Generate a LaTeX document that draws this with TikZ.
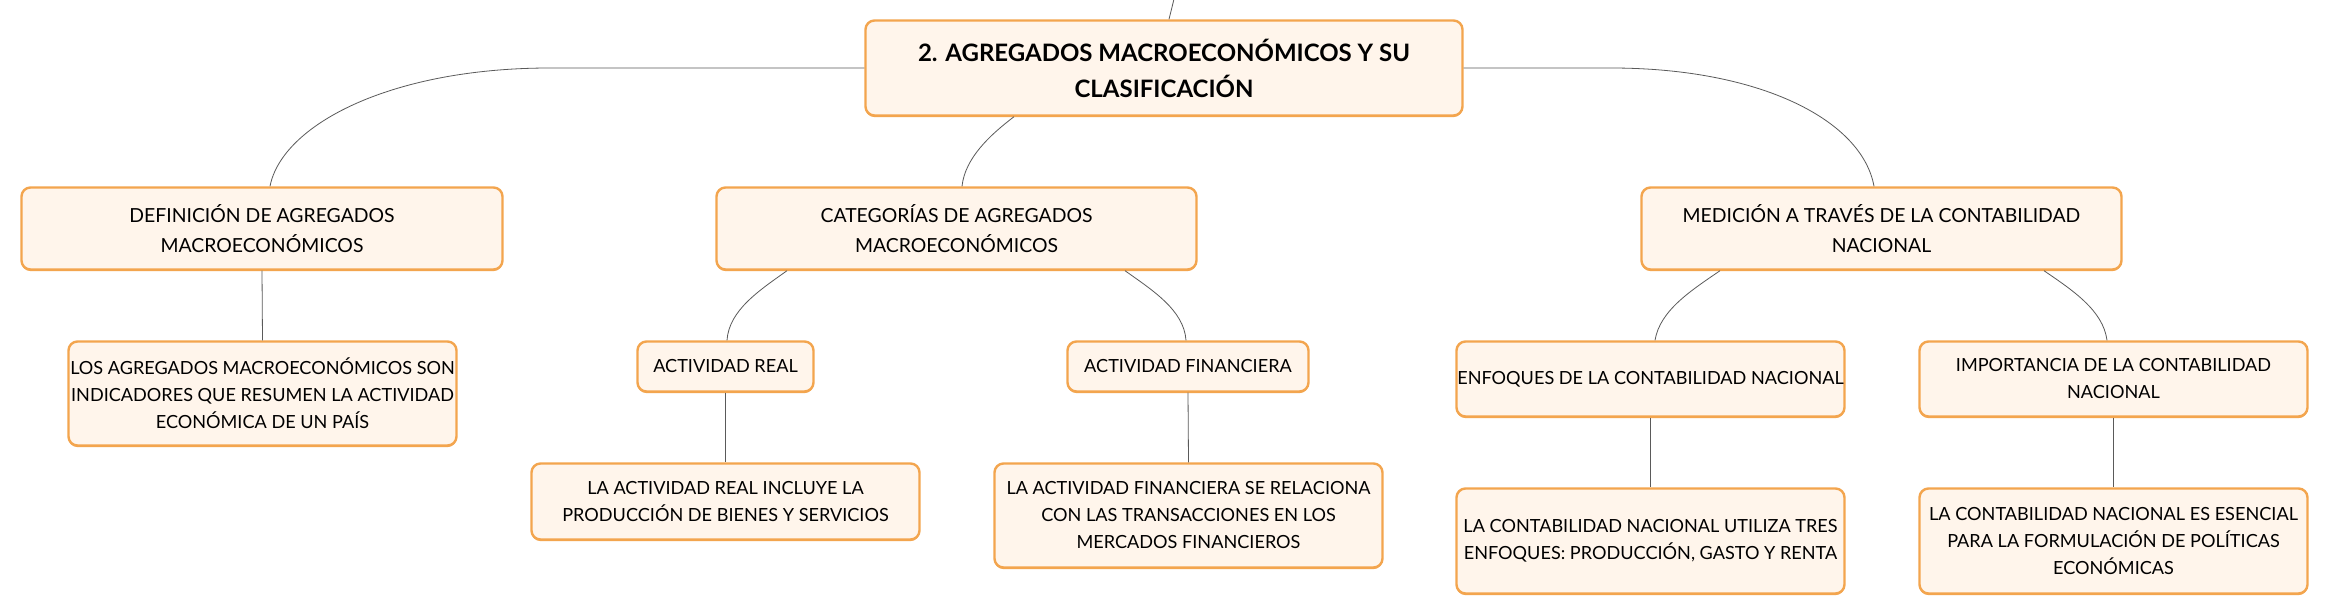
\documentclass[tikz,border=0pt]{standalone}
\usepackage{fontspec}
\setmainfont{Lato}
\usetikzlibrary{shadows}
\definecolor{boxfill}{HTML}{FFF5EB}
\definecolor{boxline}{HTML}{F3A54E}
\definecolor{conn}{HTML}{5A5A5A}
\begin{document}
\begin{tikzpicture}[x=1pt,y=-1pt,
  box/.style={draw=boxline, line width=2.4pt, fill=boxfill, rounded corners=9pt,
    align=center, inner sep=0pt, text=black,
    general shadow={fill=boxline, shadow yshift=-1.6pt}},
  topbox/.style={box, font=\fontsize{24}{36}\selectfont\bfseries},
  lvlone/.style={box, font=\fontsize{19.4}{30}\selectfont},
  lvltwo/.style={box, font=\fontsize{18.1}{27}\selectfont},
  link/.style={draw=conn, line width=0.8pt}]
\useasboundingbox (0,0) rectangle (2330,615);
\fill[white] (0,0) rectangle (2330,615);

\node[topbox, minimum width=597pt, minimum height=95pt] (root) at (1164,68)
  {2. AGREGADOS MACROECONÓMICOS Y SU\\CLASIFICACIÓN};

\node[lvlone, minimum width=481pt, minimum height=82pt] (def) at (262,228.5)
  {DEFINICIÓN DE AGREGADOS\\MACROECONÓMICOS};
\node[lvlone, minimum width=480pt, minimum height=82pt] (cat) at (956.5,228.5)
  {CATEGORÍAS DE AGREGADOS\\MACROECONÓMICOS};
\node[lvlone, minimum width=480pt, minimum height=82pt] (med) at (1881.5,228.5)
  {MEDICIÓN A TRAVÉS DE LA CONTABILIDAD\\NACIONAL};

\node[lvltwo, minimum width=388pt, minimum height=104pt] (los) at (262.5,393.5)
  {LOS AGREGADOS MACROECONÓMICOS SON\\INDICADORES QUE RESUMEN LA ACTIVIDAD\\ECONÓMICA DE UN PAÍS};
\node[lvltwo, minimum width=176pt, minimum height=50pt] (actreal) at (725.5,366.5)
  {ACTIVIDAD REAL};
\node[lvltwo, minimum width=241pt, minimum height=50pt] (actfin) at (1188,366.5)
  {ACTIVIDAD FINANCIERA};
\node[lvltwo, minimum width=388pt, minimum height=76pt] (lareal) at (725.5,501.5)
  {LA ACTIVIDAD REAL INCLUYE LA\\PRODUCCIÓN DE BIENES Y SERVICIOS};
\node[lvltwo, minimum width=388pt, minimum height=104pt] (lafin) at (1188.5,515.5)
  {LA ACTIVIDAD FINANCIERA SE RELACIONA\\CON LAS TRANSACCIONES EN LOS\\MERCADOS FINANCIEROS};
\node[lvltwo, minimum width=388pt, minimum height=75pt] (enf) at (1650.5,379)
  {ENFOQUES DE LA CONTABILIDAD NACIONAL};
\node[lvltwo, minimum width=388pt, minimum height=75pt] (imp) at (2113.5,379)
  {IMPORTANCIA DE LA CONTABILIDAD\\NACIONAL};
\node[lvltwo, minimum width=388pt, minimum height=105pt] (lacn) at (1650.5,541)
  {LA CONTABILIDAD NACIONAL UTILIZA TRES\\ENFOQUES: PRODUCCIÓN, GASTO Y RENTA};
\node[lvltwo, minimum width=388pt, minimum height=105pt] (lacne) at (2113.5,541)
  {LA CONTABILIDAD NACIONAL ES ESENCIAL\\PARA LA FORMULACIÓN DE POLÍTICAS\\ECONÓMICAS};

\coordinate (parent) at (1174,-1);

% connectors
\path[link] ([xshift=5pt]root.north) -- (parent);
\path[link] (root.west) -- (550,68) .. controls (390,68) and (282,125) .. ([xshift=8pt]def.north);
\path[link] ([xshift=-150pt]root.south) .. controls (990,135) and (965,158) .. ([xshift=5.5pt]cat.north);
\path[link] (root.east) -- (1611,68) .. controls (1760,68) and (1862,120) .. ([xshift=-7.5pt]med.north);

\path[link] (def.south) -- (los.north);

\path[link] ([xshift=-169.5pt]cat.south) .. controls (760,290) and (729,310) .. ([xshift=1.5pt]actreal.north);
\path[link] ([xshift=168.5pt]cat.south) .. controls (1152,290) and (1184,310) .. ([xshift=-2pt]actfin.north);
\path[link] (actreal.south) -- (lareal.north);
\path[link] (actfin.south) -- (lafin.north);

\path[link] ([xshift=-161.5pt]med.south) .. controls (1692,290) and (1660,310) .. ([xshift=4.5pt]enf.north);
\path[link] ([xshift=162.5pt]med.south) .. controls (2072,290) and (2103,310) .. ([xshift=-6.5pt]imp.north);
\path[link] (enf.south) -- (lacn.north);
\path[link] (imp.south) -- (lacne.north);
\end{tikzpicture}
\end{document}
